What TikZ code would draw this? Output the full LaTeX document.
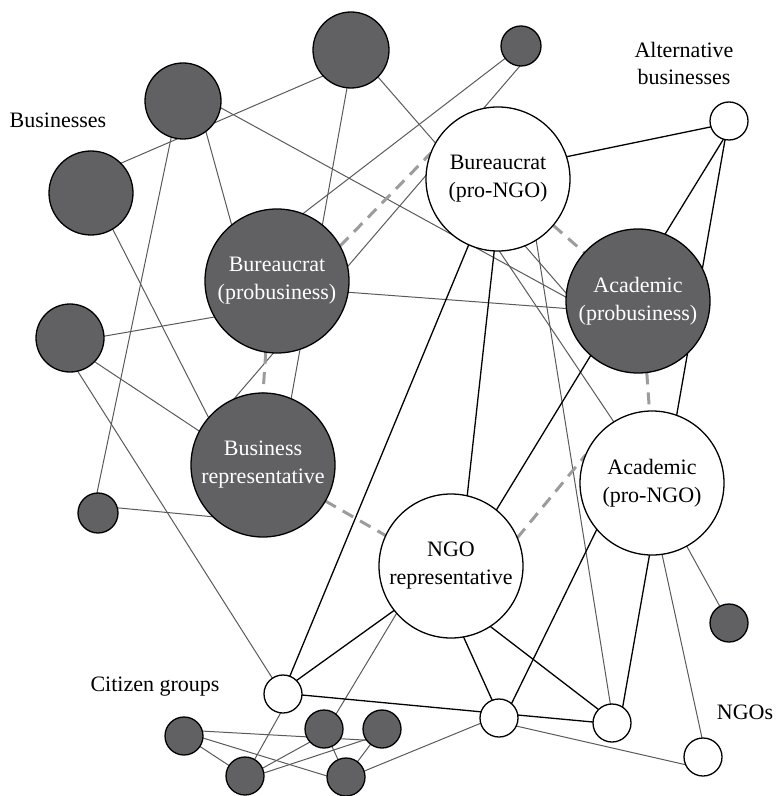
\documentclass[tikz,border=0pt]{standalone}
\usepackage{fontspec}
\setmainfont{Liberation Serif}
\usetikzlibrary{backgrounds}
\definecolor{nodedark}{HTML}{616163}
\definecolor{edgegrey}{HTML}{5A5A5A}
\definecolor{dashgrey}{HTML}{9C9C9C}
\begin{document}
\begin{tikzpicture}[x=0.5pt,y=-0.5pt,
  darknode/.style={circle,draw=black,fill=nodedark,line width=0.65pt,inner sep=0pt,outer sep=0pt},
  lightnode/.style={circle,draw=black,fill=white,line width=0.65pt,inner sep=0pt,outer sep=0pt},
  bignode/.style={minimum size=72pt,font=\fontsize{11}{14}\selectfont,align=center},
  greyedge/.style={draw=edgegrey,line width=0.5pt},
  blackedge/.style={draw=black,line width=0.65pt},
  dashedge/.style={draw=dashgrey,line width=1.5pt,dash pattern=on 6pt off 4pt},
  lab/.style={font=\fontsize{11}{13.5}\selectfont,align=center}]
\useasboundingbox (0,0) rectangle (777,796);

% business nodes
\node[darknode,minimum size=38pt] (b1) at (351,50) {};
\node[darknode,minimum size=38pt] (b2) at (183,101) {};
\node[darknode,minimum size=42pt] (b3) at (91,193) {};
\node[darknode,minimum size=20pt] (b4) at (521,46) {};
\node[darknode,minimum size=34pt] (b5) at (70,338) {};
\node[darknode,minimum size=20pt] (b6) at (98,513) {};

% main actors
\node[darknode,bignode,text=white] (bp) at (277,281) {Bureaucrat\\(probusiness)};
\node[darknode,bignode,text=white] (br) at (263,465) {Business\\representative};
\node[lightnode,bignode] (bn) at (498,179) {Bureaucrat\\(pro-NGO)};
\node[darknode,bignode,text=white] (ap) at (638,301) {Academic\\(probusiness)};
\node[lightnode,bignode] (an) at (652,483) {Academic\\(pro-NGO)};
\node[lightnode,bignode] (ng) at (451,566) {NGO\\representative};

% small nodes
\node[lightnode,minimum size=19pt] (alt) at (729,121) {};
\node[lightnode,minimum size=19pt] (cw) at (283,694) {};
\node[darknode,minimum size=19pt] (c1) at (184,736) {};
\node[darknode,minimum size=19pt] (c2) at (245,776) {};
\node[darknode,minimum size=19pt] (c3) at (324,729) {};
\node[darknode,minimum size=19pt] (c4) at (382,729) {};
\node[darknode,minimum size=19pt] (c5) at (346,777) {};
\node[lightnode,minimum size=19pt] (n1) at (499,718) {};
\node[lightnode,minimum size=19pt] (n2) at (612,723) {};
\node[lightnode,minimum size=19pt] (n3) at (703,757) {};
\node[darknode,minimum size=19pt] (nd) at (729,623) {};

% labels
\node[lab] (lbus) at (58,120) {Businesses};
\node[lab] (lalt) at (684,63) {Alternative\\businesses};
\node[lab] (lcit) at (155,687) {Citizen groups};
\node[lab] (lngo) at (745,712) {NGOs};

\begin{pgfonlayer}{background}
% grey edges
\draw[greyedge] (b3.45) -- (b1.223);
\draw[greyedge] (b2.-108) -- (b6.93);
\draw[greyedge] (b2.-53) -- (bp.129);
\draw[greyedge] (b2.-10) -- (ap.177);
\draw[greyedge] (b1.-96) -- (br.67);
\draw[greyedge] (b1.-45) -- (ap.174);
\draw[greyedge] (b4.218) -- (bp.69);
\draw[greyedge] (b4.-93) -- (br.114);
\draw[greyedge] (b3.-59) -- (br.139);
\draw[greyedge] (b5.3) -- (bp.210);
\draw[greyedge] (b5.-44) -- (br.152);
\draw[greyedge] (b5.-77) -- (cw.124);
\draw[greyedge] (b6.15) -- (br.-134);
\draw[greyedge] (bp.-9) -- (ap.186);
\draw[greyedge] (bn.-89) -- (an.122);
\draw[greyedge] (bn.-58) -- (n2.95);
\draw[greyedge] (an) -- (nd);
\draw[greyedge] (an.-82) -- (n3.93);
\draw[greyedge] (ng.-139) -- (c3.51);
\draw[greyedge] (n1.-25) -- (n3.-156);
\draw[greyedge] (n1.-164) -- (c5.18);
\draw[greyedge] (cw.-97) -- (c2.60);
\draw[greyedge] (c1.15) -- (c4.-144);
\draw[greyedge] (c1.-6) -- (c5.177);
\draw[greyedge] (c1) -- (c2);
\draw[greyedge] (c2.24) -- (c3.-137);
\draw[greyedge] (c2.9) -- (c4.-147);
\draw[greyedge] (c3) -- (c5);
\draw[greyedge] (c4) -- (c5);
% black edges
\draw[blackedge] (bn.18) -- (alt.-162);
\draw[blackedge] (alt.-107) -- (ap.68);
\draw[blackedge] (alt.-102) -- (an.70);
\draw[blackedge] (bn.-114) -- (cw.69);
\draw[blackedge] (bn.-93) -- (ng.77);
\draw[blackedge] (ap.-131) -- (ng.51);
\draw[blackedge] (an.-140) -- (n1.49);
\draw[blackedge] (an.-92) -- (n2.56);
\draw[blackedge] (ng.-80) -- (n1.111);
\draw[blackedge] (ng.-57) -- (n2.135);
\draw[blackedge] (ng.-142) -- (cw.45);
\draw[blackedge] (cw.-3) -- (n1.161);
\draw[blackedge] (n1.9) -- (n2.177);
% dashed edges
\draw[dashedge] (bp.29) -- (bn.159);
\draw[dashedge] (bp.-99) -- (br.90);
\draw[dashedge] (bn.-40) -- (ap.138);
\draw[dashedge] (ap.-83) -- (an.92);
\draw[dashedge] (br.-30) -- (ng.155);
\draw[dashedge] (ng.23) -- (an.157);
\end{pgfonlayer}
\end{tikzpicture}
\end{document}
